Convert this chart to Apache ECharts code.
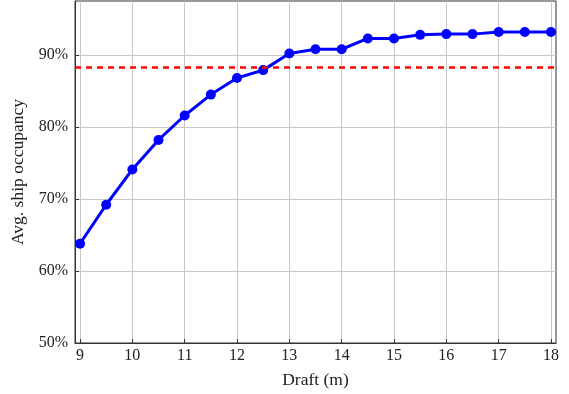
<!DOCTYPE html>
<html>
<head>
<meta charset="utf-8">
<script src="https://cdn.jsdelivr.net/npm/echarts@6/dist/echarts.min.js"></script>
<style>
  html, body { margin: 0; padding: 0; background: #fff; }
  #chart { width: 569px; height: 394px; }
</style>
</head>
<body>
<div id="chart"></div>
<script>
// draft values (m) and avg occupancy (%)
var drafts = [9, 9.5, 10, 10.5, 11, 11.5, 12, 12.5, 13, 13.5, 14, 14.5, 15, 15.5, 16, 16.5, 17, 17.5, 18];
var occupancy = [63.8, 69.2, 74.1, 78.2, 81.6, 84.5, 86.8, 87.9, 90.2, 90.8, 90.8, 92.3, 92.3, 92.8, 92.9, 92.9, 93.2, 93.2, 93.2];
var reference = 88.3;
var xTicks = [9, 10, 11, 12, 13, 14, 15, 16, 17, 18];
var yTicks = [50, 60, 70, 80, 90];

var font = 'Liberation Serif';
var axisColor = '#333';
var gridColor = '#c8c8c8';

var chart = echarts.init(document.getElementById('chart'));

var option = {
    animation: false,
    grid: {
        left: 75, right: 13, top: 1, bottom: 51,
        show: true,
        borderColor: axisColor,
        borderWidth: 1
    },
    xAxis: {
        type: 'value',
        min: 8.904,
        max: 18.096,
        name: 'Draft (m)',
        nameLocation: 'middle',
        nameGap: 28,
        nameTextStyle: { fontFamily: font, fontSize: 17.5, color: '#222' },
        axisLine: { show: true, lineStyle: { color: axisColor } },
        axisTick: { show: true, inside: true, length: 4, customValues: xTicks, lineStyle: { color: axisColor } },
        axisLabel: { customValues: xTicks, fontFamily: font, fontSize: 16, color: '#222', margin: 5 },
        splitLine: { show: true, lineStyle: { color: gridColor, width: 1 } }
    },
    yAxis: {
        type: 'value',
        min: 50,
        max: 97.5,
        name: 'Avg. ship occupancy',
        nameLocation: 'middle',
        nameGap: 46,
        nameTextStyle: { fontFamily: font, fontSize: 17.5, color: '#222' },
        axisLine: { show: true, lineStyle: { color: axisColor } },
        axisTick: { show: true, inside: true, length: 4, customValues: yTicks, lineStyle: { color: axisColor } },
        axisLabel: {
            customValues: yTicks,
            fontFamily: font, fontSize: 16, color: '#222', margin: 7,
            formatter: function (v) { return v + '%'; }
        },
        splitLine: { show: true, lineStyle: { color: gridColor, width: 1 } }
    },
    series: [{
        type: 'line',
        data: drafts.map(function (d, i) { return [d, occupancy[i]]; }),
        symbol: 'circle',
        symbolSize: 10,
        itemStyle: { color: '#0000ff' },
        lineStyle: { color: '#0000ff', width: 3 },
        z: 3,
        markLine: {
            silent: true,
            symbol: 'none',
            label: { show: false },
            lineStyle: { color: '#ff0000', width: 2.5, type: [6, 5] },
            data: [{ yAxis: reference }]
        }
    }]
};

chart.setOption(option);
</script>
</body>
</html>
